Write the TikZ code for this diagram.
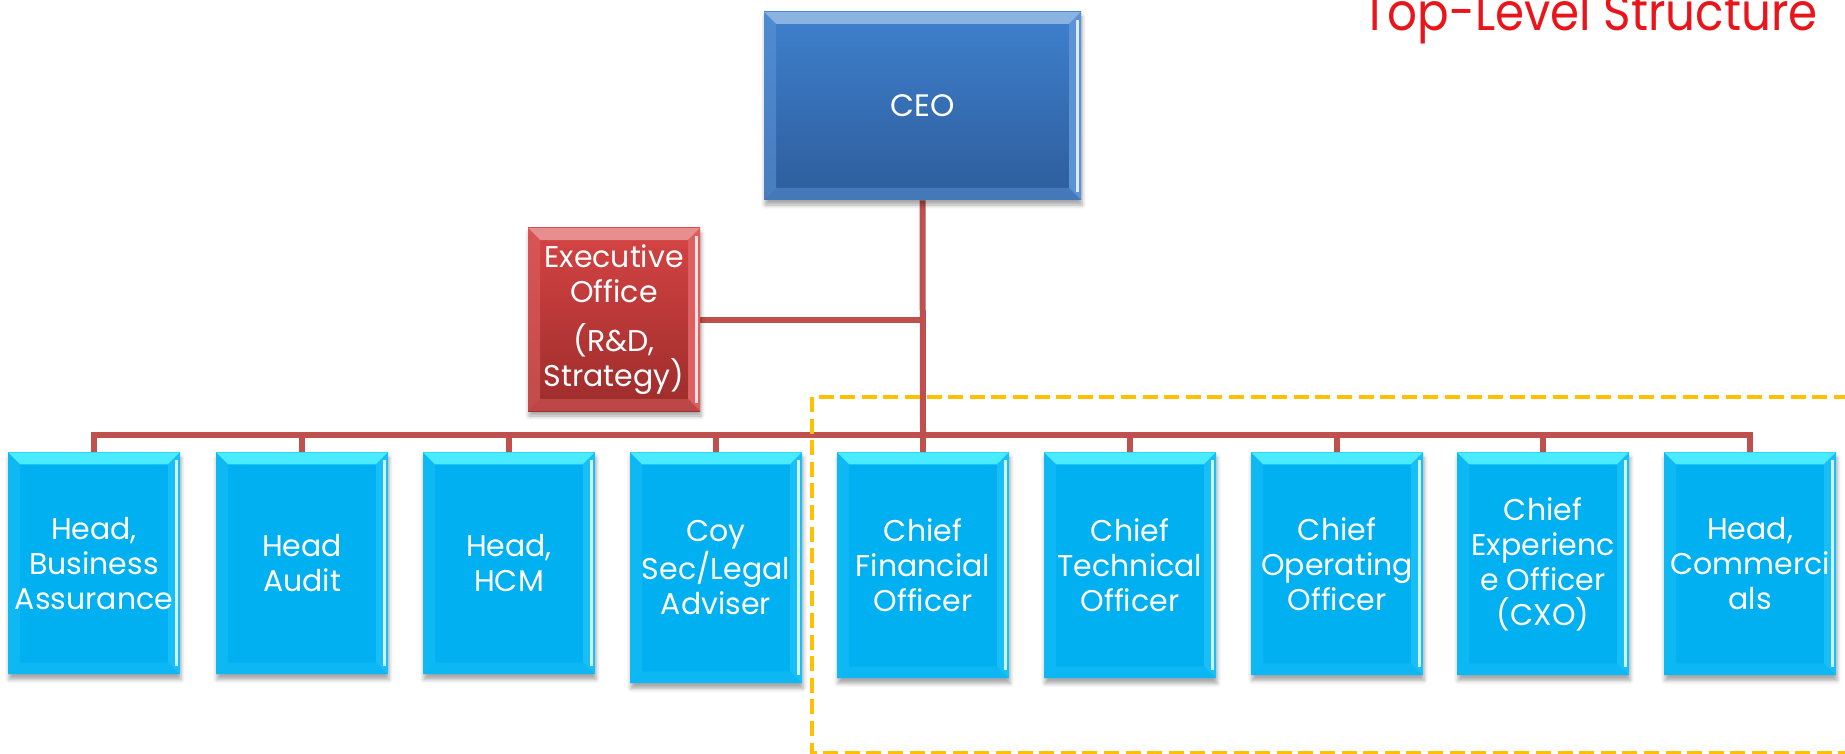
\documentclass[tikz,border=0pt]{standalone}
\usepackage{fontspec}
\setmainfont{Poppins}
\usepackage{tikz}
\usetikzlibrary{shadows.blur}
\pgfdeclarelayer{background}
\pgfdeclarelayer{foreground}
\pgfsetlayers{background,main,foreground}

\definecolor{linkred}{HTML}{C0504D}
\definecolor{boxblue}{HTML}{00B0F0}
\definecolor{boxbluetop}{HTML}{4AEAFF}
\definecolor{boxblueside}{HTML}{18BFF6}
\definecolor{ceotop}{HTML}{3E80CE}
\definecolor{ceobot}{HTML}{2E5D9B}
\definecolor{exectop}{HTML}{D64444}
\definecolor{execbot}{HTML}{9C2C2B}
\definecolor{frameyellow}{HTML}{FFC000}
\definecolor{titlered}{HTML}{E8161B}

\tikzset{
  bevel/.style 2 args={path picture={
    \fill[#1] (path picture bounding box.north west) -- (path picture bounding box.north east)
      -- ([xshift=-6pt,yshift=-6pt]path picture bounding box.north east)
      -- ([xshift=6pt,yshift=-6pt]path picture bounding box.north west) -- cycle;
    \fill[#2,opacity=0.6] (path picture bounding box.north west) -- ([xshift=6pt,yshift=-6pt]path picture bounding box.north west)
      -- ([xshift=6pt,yshift=6pt]path picture bounding box.south west) -- (path picture bounding box.south west) -- cycle;
    \fill[#2,opacity=0.5] (path picture bounding box.south west) -- (path picture bounding box.south east)
      -- ([xshift=-6pt,yshift=6pt]path picture bounding box.south east)
      -- ([xshift=6pt,yshift=6pt]path picture bounding box.south west) -- cycle;
    \fill[#2] (path picture bounding box.north east) -- ([xshift=-6pt,yshift=-6pt]path picture bounding box.north east)
      -- ([xshift=-6pt,yshift=6pt]path picture bounding box.south east) -- (path picture bounding box.south east) -- cycle;
    \fill[white,opacity=0.8] ([xshift=-2.5pt,yshift=-4pt]path picture bounding box.north east) rectangle ([xshift=-1pt,yshift=4pt]path picture bounding box.south east);
  }},
  boxshadow/.style={blur shadow={shadow xshift=0.5pt,shadow yshift=-2.5pt,shadow blur radius=2pt,shadow opacity=35}},
  bluebox/.style={rectangle, fill=boxblue, text=white, anchor=north, minimum width=86pt,
    align=center, inner sep=0pt, font=\fontsize{15}{17.5}\selectfont, boxshadow,
    bevel={boxbluetop}{boxblueside}},
  ceobox/.style={rectangle, top color=ceotop, bottom color=ceobot, text=white, boxshadow,
    minimum width=158.5pt, minimum height=94pt, font=\fontsize{15.5}{17.5}\selectfont,
    bevel={ceotop!60!white}{ceotop!85!white}},
  execbox/.style={rectangle, top color=exectop, bottom color=execbot, text=white, boxshadow,
    minimum width=86pt, minimum height=91.5pt, align=center, inner sep=0pt,
    font=\fontsize{15}{17.5}\selectfont, bevel={exectop!60!white}{exectop!85!white}},
  link/.style={draw=linkred, line width=3pt}
}

\begin{document}
\begin{tikzpicture}[x=0.5pt,y=-0.5pt]
\useasboundingbox (0,0) rectangle (1845,754);
% top of the chart
\node[ceobox] (ceo) at (922.5,106) {CEO};
\node[execbox] (exec) at (614,319.5) {Executive\\Office\\[7pt](R\&D,\\Strategy)};
\coordinate (bus) at (923,435);
% second row
\node[bluebox, minimum height=111pt] (hba) at (94,452) {Head,\\Business\\Assurance};
\node[bluebox, minimum height=111pt] (audit) at (302,452) {Head\\Audit};
\node[bluebox, minimum height=111pt] (hcm) at (509,452) {Head,\\HCM};
\node[bluebox, minimum height=115.5pt] (legal) at (716,452) {Coy\\Sec/Legal\\Adviser};
\node[bluebox, minimum height=113pt] (cfo) at (923,452) {Chief\\Financial\\Officer};
\node[bluebox, minimum height=113pt] (cto) at (1130,452) {Chief\\Technical\\Officer};
\node[bluebox, minimum height=111.5pt] (coo) at (1337,452) {Chief\\Operating\\Officer};
\node[bluebox, minimum height=111.5pt] (cxo) at (1543,452) {Chief\\Experienc\\e Officer\\(CXO)};
\node[bluebox, minimum height=111.5pt] (comm) at (1750,452) {Head,\\Commerci\\als};
% title
\node[anchor=base east, text=titlered, inner sep=0pt, xscale=0.9, transform shape,
  font=\fontsize{26}{30}\selectfont] (title) at (1818,31) {Top-Level Structure};
\begin{pgfonlayer}{background}
\draw[link] (ceo.south) -- (bus);
\draw[link] (exec.east) -- (exec.east -| ceo.south);
\draw[link] (bus) -| (hba.north);
\draw[link] (bus) -| (audit.north);
\draw[link] (bus) -| (hcm.north);
\draw[link] (bus) -| (legal.north);
\draw[link] (bus) -- (cfo.north);
\draw[link] (bus) -| (cto.north);
\draw[link] (bus) -| (coo.north);
\draw[link] (bus) -| (cxo.north);
\draw[link] (bus) -| (comm.north);
\end{pgfonlayer}
\begin{pgfonlayer}{foreground}
\draw[frameyellow, line width=2pt, dash pattern=on 7.5pt off 3.3pt] (812,397) rectangle (1860,753);
\end{pgfonlayer}
\end{tikzpicture}
\end{document}
